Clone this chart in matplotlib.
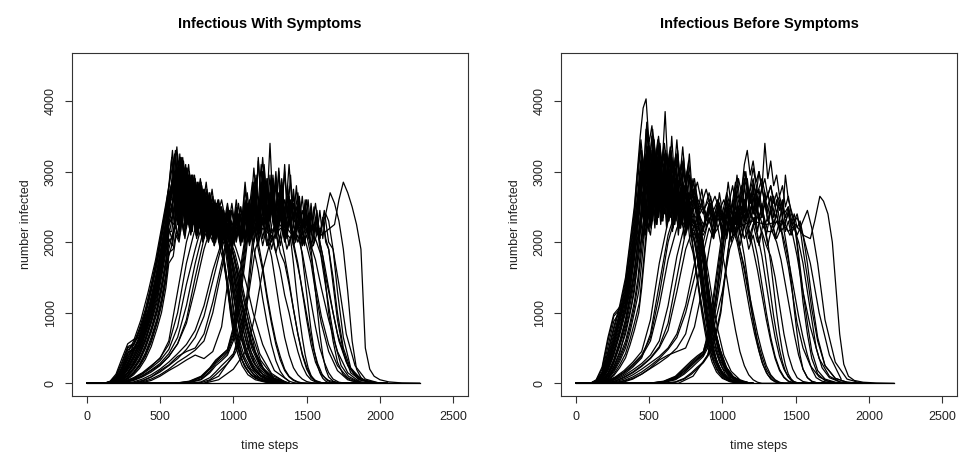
import matplotlib
matplotlib.use('Agg')
import matplotlib.pyplot as plt

# ---------------------------------------------------------------
# Infectious With Symptoms (left panel)
# runs are grouped by when the outbreak took off; each group shares
# a list of time steps, each run is the count read at those steps
# ---------------------------------------------------------------

sym_rise_t = [0, 120, 160, 200, 240, 280, 320, 360, 400, 440, 480, 510, 540, 560]

sym_t_early_a = sym_rise_t + [580, 600, 620, 640, 660, 680, 700, 720, 740, 760,
                              780, 800, 820, 840, 860, 880, 900, 920, 940, 960,
                              980, 1000, 1030, 1060, 1100, 1150, 1220, 1300]
sym_early_a = [
    [0, 0, 25, 110, 300, 520, 560, 780, 1050, 1400, 1800, 2150, 2500, 2800,
     3200, 2600, 3250, 2550, 3150, 2650, 3000, 2500, 2900, 2450,
     2850, 2400, 2750, 2350, 2650, 2300, 2550, 2200, 2050, 1800,
     1450, 1000, 650, 400, 220, 100, 30, 0],
    [0, 0, 10, 40, 120, 270, 420, 560, 800, 1080, 1450, 1800, 2150, 2450,
     2300, 3000, 2250, 3100, 2400, 2950, 2300, 2900, 2250, 2800,
     2200, 2700, 2150, 2650, 2100, 2550, 2050, 2450, 2000, 1900,
     1700, 1400, 1050, 700, 400, 180, 60, 5],
    [0, 0, 0, 15, 60, 140, 250, 390, 590, 850, 1150, 1500, 1850, 2150,
     2150, 2500, 2900, 2300, 2750, 2200, 2650, 2150, 2600, 2100,
     2550, 2050, 2500, 2050, 2400, 2000, 2300, 1950, 1700, 1450,
     1150, 850, 550, 330, 170, 70, 20, 0],
    [0, 0, 0, 5, 25, 70, 140, 240, 380, 580, 850, 1100, 1450, 1800,
     1950, 2250, 2100, 2400, 2150, 2450, 2200, 2500, 2150, 2450,
     2100, 2400, 2050, 2350, 2050, 2300, 2000, 2250, 2100, 2000,
     1800, 1600, 1300, 950, 580, 260, 80, 10],
    [0, 0, 20, 95, 270, 500, 545, 740, 1000, 1350, 1750, 2100, 2450, 2750,
     2450, 2950, 2500, 3200, 2450, 3050, 2400, 2900, 2350, 2800,
     2300, 2700, 2250, 2600, 2200, 2500, 2150, 2000, 1700, 1350,
     1000, 700, 420, 250, 120, 50, 15, 0],
    [0, 0, 0, 18, 65, 150, 265, 410, 615, 875, 1200, 1550, 1900, 2200,
     2050, 2200, 2550, 2150, 2650, 2200, 2700, 2200, 2600, 2150,
     2550, 2100, 2450, 2100, 2400, 2050, 2350, 2250, 2150, 2100,
     2000, 1850, 1600, 1300, 900, 450, 150, 20],
]

sym_t_early_b = sym_rise_t + [585, 605, 625, 645, 665, 685, 705, 725, 745, 765,
                              785, 805, 825, 845, 865, 885, 905, 925, 945, 965,
                              985, 1010, 1040, 1075, 1120, 1180, 1260, 1350]
sym_early_b = [
    [0, 0, 20, 80, 230, 470, 540, 700, 960, 1300, 1700, 2050, 2400, 2700,
     2750, 3300, 2700, 3200, 2600, 3050, 2550, 2950, 2500, 2850,
     2450, 2750, 2400, 2650, 2300, 2550, 2250, 2450, 2200, 2050,
     1800, 1450, 1050, 700, 380, 160, 50, 5],
    [0, 0, 5, 30, 100, 220, 360, 520, 740, 1000, 1380, 1700, 2050, 2350,
     2500, 2200, 2800, 2300, 2900, 2350, 2800, 2300, 2700, 2250,
     2650, 2200, 2600, 2150, 2500, 2100, 2400, 2050, 1900, 1600,
     1300, 950, 620, 380, 200, 80, 20, 0],
    [0, 0, 0, 10, 50, 120, 220, 350, 540, 780, 1080, 1400, 1750, 2100,
     2350, 2650, 2250, 2750, 2300, 2700, 2250, 2650, 2200, 2550,
     2150, 2500, 2100, 2450, 2050, 2350, 2000, 2250, 2000, 1950,
     1750, 1500, 1150, 800, 450, 200, 60, 5],
    [0, 0, 30, 130, 350, 560, 620, 650, 980, 1350, 1750, 2100, 2450, 2750,
     3300, 2700, 3150, 2650, 3050, 2600, 2950, 2550, 2850, 2500,
     2800, 2400, 2700, 2350, 2600, 2250, 2450, 2150, 2300, 2150,
     1950, 1750, 1400, 1000, 600, 270, 80, 10],
    [0, 0, 12, 55, 165, 370, 490, 620, 880, 1170, 1570, 1920, 2280, 2580,
     2900, 2350, 3100, 2400, 3000, 2400, 2900, 2350, 2800, 2300,
     2700, 2250, 2600, 2200, 2500, 2100, 2300, 1900, 1600, 1300,
     1000, 700, 430, 250, 120, 50, 15, 0],
    [0, 0, 0, 12, 45, 110, 205, 330, 515, 750, 1040, 1350, 1700, 2050,
     1950, 2300, 2050, 2450, 2100, 2550, 2150, 2550, 2100, 2500,
     2050, 2450, 2050, 2400, 2000, 2350, 2100, 2300, 2150, 2100,
     2000, 1850, 1600, 1250, 850, 420, 140, 20],
]

sym_t_early_c = sym_rise_t + [590, 610, 630, 650, 670, 690, 710, 730, 750, 770,
                              790, 810, 830, 850, 870, 890, 910, 930, 950, 970,
                              990, 1015, 1045, 1080, 1125, 1185, 1265, 1360]
sym_early_c = [
    [0, 0, 15, 60, 180, 400, 500, 640, 900, 1200, 1600, 1950, 2300, 2600,
     2600, 3100, 2550, 3000, 2500, 2950, 2450, 2850, 2400, 2800,
     2350, 2700, 2300, 2600, 2250, 2500, 2200, 2400, 2100, 1850,
     1550, 1200, 850, 530, 290, 120, 35, 0],
    [0, 0, 5, 25, 80, 190, 310, 470, 700, 950, 1300, 1650, 2000, 2300,
     3150, 2400, 3050, 2350, 2950, 2300, 2850, 2250, 2800, 2200,
     2700, 2150, 2650, 2100, 2550, 2100, 2450, 2050, 2000, 1750,
     1450, 1100, 750, 450, 230, 100, 30, 0],
    [0, 0, 0, 10, 40, 100, 190, 310, 490, 720, 1000, 1300, 1650, 2000,
     2100, 2350, 2200, 2550, 2250, 2600, 2300, 2650, 2250, 2600,
     2200, 2550, 2150, 2500, 2100, 2400, 2050, 2300, 2150, 2050,
     1900, 1700, 1450, 1100, 700, 330, 110, 15],
    [0, 0, 0, 0, 20, 60, 120, 210, 340, 520, 780, 1000, 1350, 1700,
     1800, 2100, 2000, 2300, 2050, 2400, 2100, 2350, 2050, 2300,
     2000, 2250, 2000, 2200, 1950, 2150, 1900, 1750, 1500, 1200,
     900, 650, 400, 230, 110, 40, 10, 0],
    [0, 0, 8, 45, 135, 300, 450, 580, 820, 1110, 1500, 1850, 2200, 2500,
     2400, 2750, 2300, 2950, 2350, 2900, 2300, 2850, 2250, 2750,
     2200, 2650, 2150, 2550, 2100, 2450, 2050, 2300, 2000, 1950,
     1800, 1550, 1200, 850, 500, 220, 70, 5],
    [0, 0, 0, 3, 28, 75, 150, 255, 405, 615, 885, 1150, 1500, 1850,
     1900, 2150, 2050, 2350, 2100, 2450, 2150, 2450, 2100, 2400,
     2050, 2350, 2000, 2300, 1950, 2200, 1900, 2100, 1950, 1900,
     1750, 1550, 1250, 900, 550, 250, 80, 10],
]

sym_t_early_d = sym_rise_t + [595, 615, 635, 655, 675, 695, 715, 735, 755, 775,
                              795, 815, 835, 855, 875, 895, 915, 935, 955, 975,
                              995, 1020, 1050, 1090, 1135, 1200, 1280, 1380]
sym_early_d = [
    [0, 0, 10, 50, 150, 330, 480, 600, 850, 1150, 1550, 1900, 2250, 2550,
     3000, 2450, 3250, 2500, 3100, 2450, 2950, 2400, 2850, 2350,
     2750, 2300, 2700, 2250, 2600, 2200, 2500, 2150, 2000, 1700,
     1350, 1000, 650, 380, 190, 80, 20, 0],
    [0, 0, 0, 20, 70, 160, 280, 430, 640, 900, 1250, 1600, 1950, 2250,
     2400, 2850, 2350, 2950, 2400, 2850, 2350, 2800, 2300, 2700,
     2250, 2650, 2200, 2550, 2150, 2450, 2100, 2350, 2200, 2050,
     1850, 1600, 1250, 880, 500, 220, 70, 5],
    [0, 0, 0, 5, 30, 80, 160, 270, 430, 650, 920, 1200, 1550, 1900,
     2200, 2600, 2150, 2700, 2200, 2650, 2150, 2600, 2100, 2550,
     2100, 2450, 2050, 2400, 2000, 2300, 1950, 2100, 1850, 1600,
     1300, 1000, 700, 420, 220, 90, 25, 0],
    [0, 0, 10, 60, 200, 430, 500, 530, 760, 1050, 1450, 1800, 2150, 2500,
     2850, 3350, 2800, 3200, 2700, 3100, 2650, 2950, 2600, 2900,
     2550, 2850, 2450, 2750, 2400, 2600, 2300, 2450, 2200, 1950,
     1600, 1250, 900, 560, 300, 130, 40, 0],
    [0, 0, 5, 35, 110, 240, 390, 540, 770, 1040, 1420, 1750, 2100, 2400,
     2600, 3050, 2500, 3100, 2450, 2950, 2400, 2850, 2350, 2750,
     2300, 2650, 2250, 2550, 2200, 2400, 2050, 1800, 1500, 1250,
     950, 700, 450, 270, 130, 50, 15, 0],
    [0, 0, 3, 28, 90, 200, 340, 500, 720, 980, 1340, 1680, 2030, 2330,
     2250, 2600, 2300, 2800, 2350, 2800, 2300, 2750, 2250, 2650,
     2200, 2600, 2150, 2500, 2100, 2400, 2050, 2300, 2200, 2150,
     2050, 1900, 1700, 1400, 1000, 550, 180, 30],
]

sym_t_long_a = [0, 120, 170, 220, 270, 320, 370, 420, 470, 510,
                545, 570, 600, 630, 660, 690, 720, 750, 780, 810,
                840, 870, 900, 930, 960, 990, 1020, 1050, 1080, 1110,
                1140, 1170, 1200, 1230, 1260, 1290, 1320, 1350, 1380, 1410,
                1440, 1470, 1500, 1530, 1560, 1590, 1620, 1650, 1680, 1720,
                1770, 1830, 1900, 2000]
sym_long_a = [
    [0, 0, 20, 90, 300, 550, 800, 1150, 1600, 2050,
     2450, 2750, 3000, 2500, 2900, 2400, 2800, 2350, 2700, 2300,
     2650, 2200, 2550, 2100, 2500, 2050, 2600, 2100, 2750, 2150,
     2850, 2200, 3000, 2250, 2800, 2150, 2700, 2100, 2650, 2050,
     2550, 2000, 2450, 1950, 2350, 2000, 1700, 1350, 1000, 600,
     300, 120, 40, 0],
    [0, 0, 10, 50, 180, 380, 620, 950, 1400, 1850,
     2250, 2550, 2850, 2300, 2750, 2250, 2650, 2200, 2550, 2150,
     2450, 2100, 2400, 2050, 2350, 2000, 2300, 1950, 2400, 2000,
     2500, 2050, 2350, 1950, 2100, 1850, 1600, 1250, 1000, 700,
     450, 250, 120, 50, 20, 5, 0, 0, 0, 0,
     0, 0, 0, 0],
    [0, 0, 30, 130, 380, 600, 900, 1300, 1750, 2200,
     2600, 2900, 3250, 2700, 3100, 2600, 2950, 2500, 2800, 2400,
     2700, 2250, 2600, 2200, 2550, 2150, 2500, 2100, 2850, 2200,
     3050, 2300, 3200, 2350, 2900, 2250, 2800, 2200, 3100, 2250,
     2700, 2150, 2600, 2100, 2550, 2050, 2450, 2000, 1900, 1400,
     700, 250, 60, 0],
    [0, 0, 15, 70, 240, 470, 720, 1050, 1500, 1950,
     2350, 2650, 2900, 2400, 2800, 2350, 2700, 2300, 2600, 2250,
     2550, 2150, 2450, 2100, 2400, 2050, 2350, 2000, 2450, 2050,
     2500, 2100, 2650, 2150, 2450, 2050, 2350, 2000, 2300, 1950,
     2100, 1850, 1500, 1150, 800, 500, 300, 150, 60, 15,
     0, 0, 0, 0],
]

sym_t_long_b = [0, 130, 180, 230, 280, 330, 380, 430, 480, 520,
                555, 580, 615, 645, 675, 705, 735, 765, 795, 825,
                855, 885, 915, 945, 975, 1005, 1035, 1065, 1095, 1125,
                1155, 1185, 1215, 1245, 1275, 1305, 1335, 1365, 1395, 1425,
                1455, 1485, 1515, 1545, 1575, 1605, 1635, 1665, 1695, 1735,
                1785, 1845, 1915, 2015]
sym_long_b = [
    [0, 0, 15, 80, 260, 500, 760, 1100, 1550, 2000,
     2400, 2700, 2950, 2450, 2850, 2400, 2750, 2350, 2650, 2300,
     2550, 2100, 2500, 2050, 2450, 2000, 2550, 2050, 2700, 2100,
     2950, 2200, 2800, 2150, 2700, 2100, 2600, 2050, 2550, 2000,
     2500, 1950, 2400, 1950, 2150, 1700, 1300, 900, 550, 250,
     100, 30, 5, 0],
    [0, 0, 5, 40, 150, 330, 560, 880, 1300, 1750,
     2150, 2500, 2800, 2300, 2700, 2250, 2600, 2200, 2500, 2150,
     2450, 2050, 2400, 2000, 2350, 1950, 2400, 2000, 2550, 2050,
     2650, 2100, 2500, 2050, 2400, 1950, 2250, 1900, 2100, 1800,
     1500, 1150, 800, 500, 280, 130, 50, 15, 0, 0,
     0, 0, 0, 0],
]

sym_t_mid = [0, 200, 260, 320, 380, 440, 500, 560, 620, 680,
             740, 800, 860, 920, 960, 990, 1020, 1050, 1080, 1110,
             1140, 1170, 1200, 1230, 1260, 1290, 1320, 1350, 1380, 1410,
             1440, 1470, 1500, 1530, 1560, 1600, 1650, 1710, 1780, 1860]
sym_mid = [
    [0, 0, 30, 80, 150, 250, 350, 600, 1300, 2000,
     2450, 2100, 2550, 2050, 2400, 2000, 2450, 2050, 2500, 2100,
     2600, 2150, 2450, 2050, 1800, 1400, 1000, 650, 400, 220,
     120, 60, 25, 10, 0, 0, 0, 0, 0, 0],
    [0, 0, 10, 40, 90, 160, 250, 380, 560, 900,
     1500, 2050, 2400, 2000, 2350, 1950, 2400, 2050, 2550, 2100,
     2650, 2150, 2700, 2200, 2550, 2150, 2450, 2050, 2300, 2000,
     1700, 1300, 900, 550, 300, 120, 40, 10, 0, 0],
    [0, 0, 0, 20, 60, 120, 200, 300, 420, 550,
     750, 1100, 1600, 2000, 2350, 2000, 2450, 2100, 2600, 2150,
     2800, 2200, 2900, 2250, 2700, 2150, 2600, 2100, 2500, 2050,
     2400, 2000, 2300, 1950, 1750, 1350, 900, 450, 150, 20],
    [0, 0, 0, 0, 30, 90, 180, 260, 380, 450,
     500, 700, 1150, 1700, 2100, 2450, 2050, 2500, 2100, 2550,
     2200, 2000, 1650, 1250, 900, 600, 380, 200, 100, 50,
     20, 5, 0, 0, 0, 0, 0, 0, 0, 0],
    [0, 0, 20, 60, 130, 220, 320, 480, 800, 1400,
     1900, 2350, 2000, 2500, 2100, 2450, 2050, 2400, 2000, 2350,
     2000, 2300, 1950, 2250, 1900, 2150, 1850, 1700, 1400, 1050,
     700, 420, 230, 100, 40, 10, 0, 0, 0, 0],
    [0, 0, 0, 0, 10, 40, 100, 180, 250, 330,
     400, 350, 450, 800, 1400, 1900, 2300, 2000, 2450, 2100,
     2550, 2150, 2650, 2200, 2500, 2100, 2400, 2050, 2350, 2000,
     2300, 1950, 2200, 1900, 2050, 1800, 1300, 700, 250, 30],
    [0, 0, 15, 50, 110, 190, 280, 420, 650, 1100,
     1700, 2200, 2500, 2100, 2450, 2050, 2350, 2000, 2300, 1950,
     2250, 1900, 1600, 1200, 850, 550, 330, 180, 90, 40,
     15, 5, 0, 0, 0, 0, 0, 0, 0, 0],
    [0, 0, 0, 10, 40, 90, 160, 250, 350, 480,
     650, 950, 1450, 1950, 2250, 1950, 2350, 2000, 2500, 2100,
     2650, 2150, 2750, 2200, 2600, 2100, 2500, 2050, 2400, 2000,
     2250, 1950, 2100, 1800, 1400, 950, 550, 250, 80, 10],
    [0, 0, 20, 50, 100, 180, 260, 380, 560, 850,
     1350, 1900, 2300, 2000, 2400, 2050, 2450, 2050, 2400, 2000,
     2350, 1950, 2300, 1950, 2200, 1850, 2100, 1800, 1450, 1050,
     700, 400, 200, 80, 30, 10, 0, 0, 0, 0],
    [0, 0, 0, 0, 20, 60, 120, 200, 300, 380,
     470, 600, 1000, 1600, 2050, 2300, 2000, 2350, 2050, 2200,
     1900, 1600, 1200, 850, 550, 320, 170, 80, 30, 10,
     0, 0, 0, 0, 0, 0, 0, 0, 0, 0],
    [0, 0, 25, 70, 140, 240, 360, 550, 1000, 1700,
     2200, 2550, 2150, 2600, 2150, 2550, 2100, 2500, 2050, 2450,
     2100, 2500, 2050, 2400, 2000, 2350, 1950, 2300, 1950, 2250,
     2000, 2150, 1950, 1700, 1300, 850, 450, 180, 50, 5],
]

sym_t_late = [0, 600, 700, 780, 840, 880, 920, 960, 1000, 1030,
              1060, 1090, 1110, 1130, 1150, 1170, 1190, 1210, 1230, 1250,
              1270, 1290, 1310, 1330, 1350, 1370, 1390, 1410, 1430, 1450,
              1470, 1490, 1510, 1530, 1550, 1570, 1590, 1610, 1630, 1650,
              1680, 1710, 1750, 1800, 1870, 1950, 2050]
sym_late = [
    [0, 0, 20, 80, 200, 300, 380, 450, 700, 1100,
     1600, 2100, 2500, 2850, 2400, 3150, 2600, 3100, 2550, 3400,
     2500, 3000, 2450, 2900, 2400, 2800, 2350, 2750, 2300, 2650,
     2200, 2600, 2150, 2550, 2100, 2450, 2050, 2350, 2000, 1900,
     1500, 1000, 500, 200, 50, 10, 0],
    [0, 0, 10, 50, 150, 250, 320, 400, 600, 950,
     1400, 1900, 2300, 2650, 2300, 3200, 2500, 3050, 2400, 2950,
     2300, 2900, 2300, 2750, 2250, 2650, 2200, 2550, 2150, 2500,
     2100, 2450, 2050, 2400, 2000, 2350, 2000, 1800, 1400, 1000,
     600, 300, 120, 40, 10, 0, 0],
    [0, 0, 0, 20, 80, 160, 250, 330, 420, 560,
     800, 1200, 1600, 2000, 2400, 2150, 2650, 2250, 2750, 2300,
     2900, 2350, 3000, 2400, 3100, 2350, 2950, 2300, 2800, 2250,
     2650, 2200, 2600, 2150, 2500, 2100, 2450, 2050, 2400, 2300,
     1900, 1300, 650, 220, 60, 15, 0],
    [0, 0, 30, 100, 220, 330, 400, 480, 800, 1300,
     1800, 2200, 2600, 2200, 2750, 2300, 2850, 2350, 2900, 2350,
     2950, 2400, 3050, 2450, 3000, 2400, 2600, 2300, 2300, 2100,
     1800, 1450, 1100, 750, 480, 280, 150, 70, 30, 10,
     0, 0, 0, 0, 0, 0, 0],
    [0, 0, 15, 60, 170, 280, 350, 430, 650, 1000,
     1500, 2000, 2400, 2700, 2900, 2550, 3100, 2600, 2900, 2500,
     2800, 2450, 2700, 2400, 2600, 2350, 2550, 2300, 2500, 2250,
     2450, 2200, 2350, 1900, 1500, 1100, 700, 400, 200, 90,
     30, 10, 0, 0, 0, 0, 0],
    [0, 0, 0, 10, 50, 120, 200, 280, 380, 500,
     700, 1050, 1450, 1850, 2150, 2450, 2250, 2600, 2300, 2700,
     2400, 2800, 2450, 2850, 2400, 2750, 2350, 2650, 2300, 2600,
     2250, 2550, 2200, 2450, 2150, 2400, 2100, 2350, 2050, 1900,
     1400, 900, 450, 150, 40, 10, 0],
    [0, 0, 25, 90, 210, 320, 400, 470, 750, 1200,
     1700, 2150, 2550, 2300, 2700, 2350, 2800, 2400, 2750, 2350,
     2650, 2300, 2550, 2250, 2400, 2100, 2050, 1700, 1300, 950,
     650, 400, 220, 110, 50, 20, 5, 0, 0, 0,
     0, 0, 0, 0, 0, 0, 0],
]

sym_t_last = [0, 800, 900, 1000, 1100, 1150, 1200, 1250, 1300, 1350,
              1400, 1450, 1500, 1550, 1600, 1630, 1660, 1690, 1720, 1750,
              1780, 1810, 1840, 1870, 1900, 1930, 1960, 2000, 2060, 2150, 2270]
sym_last = [
    [0, 0, 50, 200, 500, 1000, 1600, 2000, 2150, 2250,
     2100, 2300, 2150, 2250, 2100, 2150, 2200, 2250, 2600, 2850,
     2700, 2500, 2250, 1900, 500, 200, 100, 50, 20, 5, 0],
    [0, 0, 100, 400, 1200, 1900, 2200, 2100, 2300, 2150,
     2350, 2200, 2300, 2150, 2200, 2400, 2700, 2550, 2300, 1900,
     1300, 600, 200, 80, 30, 10, 0, 0, 0, 0, 0],
]

sym_t_none = [0, 2270]
sym_none = [[0, 0]]

# ---------------------------------------------------------------
# Infectious Before Symptoms (right panel)
# ---------------------------------------------------------------

pre_rise_t = [0, 100, 140, 180, 220, 260, 300, 340, 370, 400]

pre_t_early_a = pre_rise_t + [420, 440, 460, 480, 500, 520, 540, 560, 580, 600,
                              620, 640, 660, 680, 700, 720, 740, 760, 780, 800,
                              820, 840, 860, 880, 900, 930, 960, 1000, 1050, 1110, 1180]
pre_early_a = [
    [0, 0, 30, 150, 450, 800, 1100, 1500, 2000, 2500,
     3000, 3500, 3900, 4030, 3400, 3650, 3100, 3450, 3000, 3350,
     2900, 3250, 2850, 3200, 2800, 3100, 2700, 3000, 2600, 2750,
     2500, 2200, 1850, 1500, 1150, 750, 450, 220, 90, 25, 0],
    [0, 0, 10, 60, 220, 470, 750, 1080, 1450, 1900,
     2400, 2900, 2500, 3100, 2600, 3200, 2650, 3100, 2550, 3050,
     2500, 2950, 2450, 2900, 2400, 2800, 2350, 2700, 2300, 2500,
     2250, 1950, 1650, 1300, 950, 600, 330, 150, 55, 15, 0],
    [0, 0, 0, 25, 100, 240, 450, 700, 980, 1300,
     1700, 2200, 2700, 2400, 2950, 2500, 3000, 2550, 2950, 2500,
     2900, 2450, 2850, 2400, 2750, 2350, 2650, 2300, 2550, 2400,
     2350, 2200, 2000, 1750, 1450, 1050, 650, 330, 130, 35, 0],
    [0, 0, 40, 200, 600, 950, 1050, 1100, 1500, 2000,
     2500, 3000, 2600, 3250, 2700, 3300, 2750, 3200, 2700, 3100,
     2650, 3000, 2600, 2900, 2500, 2800, 2450, 2650, 2200, 1900,
     1600, 1300, 1000, 750, 520, 300, 160, 70, 25, 5, 0],
    [0, 0, 28, 135, 420, 760, 1060, 1450, 1930, 2430,
     2950, 3350, 2850, 3600, 2950, 3500, 2900, 3350, 2850, 3250,
     2800, 3150, 2750, 3050, 2700, 2950, 2650, 2800, 2500, 2400,
     2200, 1900, 1550, 1200, 880, 520, 280, 120, 40, 10, 0],
    [0, 0, 3, 35, 135, 315, 560, 850, 1180, 1530,
     1900, 2350, 2050, 2600, 2150, 2750, 2200, 2800, 2250, 2800,
     2200, 2750, 2150, 2650, 2100, 2550, 2050, 2400, 2000, 1850,
     1600, 1350, 1100, 850, 620, 380, 200, 85, 25, 5, 0],
]

pre_t_early_b = pre_rise_t + [425, 445, 465, 485, 505, 525, 545, 565, 585, 605,
                              625, 645, 665, 685, 705, 725, 745, 765, 785, 805,
                              825, 845, 865, 885, 905, 935, 970, 1010, 1060, 1120, 1190]
pre_early_b = [
    [0, 0, 25, 120, 380, 700, 1000, 1400, 1850, 2350,
     2900, 3450, 3000, 3700, 3200, 3600, 3150, 3500, 3100, 3400,
     3050, 3350, 3000, 3250, 2900, 3150, 2850, 3050, 2700, 2850,
     2550, 2250, 1900, 1550, 1200, 800, 480, 230, 90, 25, 0],
    [0, 0, 10, 50, 180, 400, 680, 1000, 1350, 1750,
     2200, 2650, 2300, 2800, 2350, 2900, 2400, 3000, 2450, 2950,
     2400, 2850, 2350, 2750, 2300, 2650, 2250, 2550, 2200, 2100,
     1900, 1650, 1350, 1050, 780, 480, 270, 120, 45, 10, 0],
    [0, 0, 0, 20, 80, 200, 380, 600, 850, 1150,
     1500, 1950, 2400, 2200, 2650, 2300, 2750, 2350, 2800, 2400,
     2750, 2350, 2700, 2300, 2650, 2250, 2550, 2200, 2450, 2300,
     2200, 2050, 1850, 1600, 1300, 900, 550, 270, 100, 25, 0],
    [0, 0, 30, 160, 520, 880, 1000, 1020, 1300, 1800,
     2300, 2750, 2400, 2950, 2450, 3050, 2500, 3000, 2450, 2900,
     2400, 2800, 2350, 2700, 2300, 2600, 2250, 2500, 2150, 2050,
     1850, 1600, 1300, 1000, 720, 430, 230, 100, 35, 10, 0],
    [0, 0, 22, 110, 350, 660, 980, 1350, 1780, 2280,
     2700, 3150, 2650, 3300, 2700, 3250, 2650, 3150, 2600, 3100,
     2550, 3000, 2500, 2900, 2450, 2800, 2400, 2650, 2300, 2200,
     2000, 1750, 1450, 1150, 850, 500, 260, 110, 35, 10, 0],
    [0, 0, 0, 18, 70, 180, 345, 550, 790, 1080,
     1400, 1800, 2200, 2550, 2250, 2650, 2300, 2700, 2300, 2700,
     2250, 2650, 2200, 2600, 2200, 2550, 2250, 2500, 2300, 2300,
     2250, 2150, 2000, 1800, 1550, 1150, 750, 400, 170, 50, 0],
]

pre_t_early_c = pre_rise_t + [430, 450, 470, 490, 510, 530, 550, 570, 590, 610,
                              630, 650, 670, 690, 710, 730, 750, 770, 790, 810,
                              830, 850, 870, 890, 910, 940, 980, 1020, 1070, 1130, 1200]
pre_early_c = [
    [0, 0, 20, 100, 320, 620, 950, 1300, 1700, 2200,
     2800, 3300, 2900, 3550, 3000, 3500, 3050, 3400, 3100, 3850,
     3000, 3300, 2950, 3450, 2900, 3350, 2850, 3150, 2750, 2900,
     2600, 2300, 1950, 1600, 1250, 850, 500, 250, 100, 30, 0],
    [0, 0, 5, 40, 150, 340, 600, 900, 1250, 1600,
     2100, 2550, 2200, 2700, 2300, 2850, 2350, 2950, 2400, 3000,
     2400, 2950, 2350, 2850, 2300, 2750, 2250, 2600, 2150, 2000,
     1750, 1450, 1150, 850, 600, 350, 180, 80, 25, 5, 0],
    [0, 0, 0, 15, 60, 160, 310, 500, 720, 1000,
     1300, 1700, 2150, 2500, 2250, 2700, 2350, 2800, 2400, 2850,
     2400, 2800, 2350, 2750, 2300, 2700, 2250, 2600, 2300, 2250,
     2150, 2000, 1800, 1550, 1250, 850, 500, 240, 90, 25, 0],
    [0, 0, 0, 5, 40, 110, 220, 360, 540, 750,
     1000, 1350, 1800, 2250, 2100, 2500, 2250, 2650, 2300, 2700,
     2300, 2650, 2250, 2600, 2200, 2550, 2150, 2450, 2200, 2150,
     2050, 1950, 1750, 1500, 1200, 800, 450, 200, 70, 20, 0],
    [0, 0, 17, 90, 295, 590, 900, 1250, 1650, 2130,
     2550, 3000, 2600, 3200, 2650, 3250, 2650, 3200, 2600, 3100,
     2550, 3050, 2500, 2950, 2450, 2850, 2400, 2700, 2350, 2250,
     2050, 1800, 1500, 1200, 900, 550, 300, 130, 45, 10, 0],
    [0, 0, 50, 230, 650, 980, 1080, 1150, 1600, 2100,
     2600, 3100, 2700, 3350, 2800, 3400, 2800, 3300, 2750, 3200,
     2700, 3100, 2600, 2950, 2500, 2750, 2350, 2400, 2100, 1800,
     1500, 1200, 950, 720, 500, 300, 150, 60, 20, 5, 0],
]

pre_t_early_d = pre_rise_t + [435, 455, 475, 495, 515, 535, 555, 575, 595, 615,
                              635, 655, 675, 695, 715, 735, 755, 775, 795, 815,
                              835, 855, 875, 895, 915, 945, 985, 1030, 1080, 1140, 1210]
pre_early_d = [
    [0, 0, 15, 80, 270, 550, 850, 1200, 1600, 2050,
     2700, 3200, 2800, 3350, 2850, 3450, 2900, 3400, 2850, 3300,
     2800, 3500, 2850, 3300, 2800, 3200, 2750, 3250, 2700, 2800,
     2500, 2200, 1850, 1500, 1150, 750, 430, 200, 80, 20, 0],
    [0, 0, 5, 30, 120, 290, 520, 800, 1100, 1450,
     2000, 2450, 2100, 2600, 2200, 2750, 2250, 2850, 2300, 2900,
     2300, 2850, 2250, 2750, 2200, 2650, 2150, 2550, 2100, 2000,
     1800, 1550, 1250, 950, 680, 400, 200, 90, 30, 5, 0],
    [0, 0, 0, 10, 50, 130, 260, 420, 620, 850,
     1150, 1550, 2000, 2400, 2200, 2600, 2300, 2700, 2350, 2750,
     2350, 2700, 2300, 2650, 2250, 2550, 2200, 2450, 2250, 2200,
     2100, 1950, 1750, 1500, 1200, 800, 480, 220, 80, 20, 0],
    [0, 0, 20, 90, 300, 580, 900, 1250, 1650, 2100,
     2650, 3150, 2750, 3300, 2800, 3400, 2850, 3350, 2800, 3250,
     2750, 3200, 2700, 3250, 2650, 3100, 2600, 2950, 2500, 2600,
     2300, 2000, 1650, 1300, 950, 600, 330, 150, 55, 15, 0],
    [0, 0, 12, 70, 245, 510, 800, 1140, 1520, 1980,
     2450, 2900, 2500, 3050, 2550, 3150, 2600, 3100, 2550, 3050,
     2500, 2950, 2450, 2850, 2400, 2750, 2350, 2600, 2300, 2250,
     2100, 1900, 1650, 1350, 1050, 700, 400, 180, 60, 15, 0],
    [0, 0, 8, 55, 200, 435, 715, 1040, 1400, 1820,
     2200, 2650, 2250, 2800, 2300, 2900, 2350, 2950, 2350, 2900,
     2300, 2800, 2250, 2700, 2200, 2600, 2150, 2450, 2150, 2100,
     2000, 1850, 1650, 1400, 1100, 750, 430, 200, 70, 15, 0],
]

pre_t_long = [0, 100, 150, 200, 250, 300, 340, 380, 410, 440,
              470, 500, 530, 560, 590, 620, 650, 680, 710, 740,
              770, 800, 830, 860, 890, 920, 950, 980, 1010, 1040,
              1070, 1100, 1130, 1160, 1190, 1220, 1250, 1280, 1310, 1340,
              1370, 1400, 1430, 1460, 1490, 1520, 1550, 1580, 1610, 1640,
              1680, 1730, 1800, 1900, 2000]
pre_long = [
    [0, 0, 30, 120, 350, 750, 1150, 1600, 2100, 2600,
     3100, 3400, 2800, 3350, 2750, 3250, 2700, 3150, 2650, 3000,
     2500, 2900, 2400, 2750, 2300, 2650, 2250, 2550, 2200, 2500,
     2100, 2450, 2050, 2400, 2000, 2350, 1950, 2300, 1950, 2250,
     2050, 2200, 1950, 1650, 1300, 950, 650, 400, 200, 80,
     30, 10, 0, 0, 0],
    [0, 0, 15, 70, 230, 550, 900, 1300, 1750, 2250,
     2700, 3050, 2550, 3000, 2500, 2950, 2450, 2850, 2400, 2800,
     2350, 2700, 2250, 2600, 2200, 2550, 2150, 2700, 2300, 2850,
     2350, 2950, 2400, 3000, 2450, 2650, 2300, 2400, 2150, 2150,
     2000, 1750, 1400, 1050, 700, 400, 200, 80, 30, 10,
     0, 0, 0, 0, 0],
    [0, 0, 40, 160, 450, 900, 1250, 1700, 2200, 2700,
     3250, 2950, 3300, 2950, 3200, 2850, 3100, 2800, 3050, 2750,
     2950, 2650, 2850, 2550, 2750, 2500, 2650, 2450, 2600, 2400,
     2550, 2350, 2500, 2300, 2450, 2250, 2400, 2200, 2350, 2150,
     2300, 2150, 2250, 2100, 2200, 2000, 1700, 1300, 900, 500,
     220, 80, 20, 5, 0],
    [0, 0, 10, 50, 180, 420, 750, 1100, 1500, 1950,
     2400, 2750, 2500, 2800, 2550, 2850, 2550, 2750, 2500, 2700,
     2450, 2600, 2400, 2550, 2350, 2500, 2300, 2450, 2250, 2400,
     2200, 2000, 1700, 1350, 1000, 700, 450, 250, 120, 50,
     15, 0, 0, 0, 0, 0, 0, 0, 0, 0,
     0, 0, 0, 0, 0],
]

pre_t_mid = [0, 150, 210, 270, 330, 390, 450, 510, 570, 630,
             690, 750, 810, 870, 910, 940, 970, 1000, 1030, 1060,
             1090, 1120, 1150, 1180, 1210, 1240, 1270, 1300, 1330, 1360,
             1390, 1420, 1450, 1480, 1510, 1550, 1600, 1660, 1730, 1810]
pre_mid = [
    [0, 0, 30, 90, 180, 300, 450, 900, 1700, 2300,
     2600, 2400, 2700, 2450, 2600, 2350, 2550, 2300, 2500, 2250,
     2400, 2150, 1800, 1350, 900, 550, 300, 150, 60, 20,
     5, 0, 0, 0, 0, 0, 0, 0, 0, 0],
    [0, 0, 10, 50, 110, 190, 280, 400, 600, 1100,
     1800, 2300, 2650, 2400, 2700, 2450, 2600, 2350, 2550, 2300,
     2500, 2250, 2450, 2200, 2350, 2100, 1800, 1400, 1000, 650,
     380, 200, 90, 30, 10, 0, 0, 0, 0, 0],
    [0, 0, 0, 20, 60, 120, 200, 290, 380, 500,
     700, 1100, 1700, 2200, 2500, 2300, 2600, 2400, 2700, 2450,
     2850, 2550, 3000, 2650, 2900, 2550, 2750, 2450, 2650, 2350,
     2550, 2250, 2400, 2100, 1800, 1300, 800, 350, 100, 10],
    [0, 0, 20, 70, 150, 250, 380, 600, 1100, 1750,
     2200, 2450, 2250, 2500, 2300, 2450, 2200, 2400, 2150, 2350,
     2100, 2300, 2050, 2200, 1900, 1600, 1250, 900, 600, 350,
     180, 80, 30, 10, 0, 0, 0, 0, 0, 0],
    [0, 0, 0, 0, 20, 60, 130, 220, 330, 400,
     450, 500, 800, 1400, 1900, 2250, 2450, 2300, 2600, 2400,
     2750, 2500, 2900, 2650, 3050, 2700, 2900, 2600, 2800, 2500,
     2650, 2400, 2500, 2250, 2350, 2100, 1700, 1000, 400, 60],
    [0, 0, 0, 30, 80, 150, 240, 350, 500, 750,
     1300, 1900, 2250, 2100, 2300, 2150, 2400, 2200, 2300, 2050,
     2150, 1900, 1600, 1250, 900, 600, 380, 200, 100, 40,
     10, 0, 0, 0, 0, 0, 0, 0, 0, 0],
    [0, 0, 20, 60, 130, 230, 360, 700, 1400, 2100,
     2500, 2100, 2650, 2150, 2550, 2100, 2500, 2050, 2450, 2000,
     2350, 1950, 2250, 1900, 2100, 1800, 1400, 1000, 650, 380,
     200, 90, 30, 10, 0, 0, 0, 0, 0, 0],
    [0, 0, 0, 10, 40, 90, 160, 250, 350, 480,
     650, 1000, 1500, 2000, 2350, 2050, 2500, 2100, 2650, 2150,
     2750, 2200, 2800, 2250, 2650, 2150, 2550, 2100, 2450, 2050,
     2300, 1950, 1650, 1250, 850, 500, 250, 90, 20, 0],
    [0, 0, 25, 80, 160, 270, 400, 650, 1250, 2000,
     2450, 2200, 2550, 2250, 2450, 2100, 2200, 1850, 1500, 1100,
     750, 450, 250, 120, 50, 15, 0, 0, 0, 0,
     0, 0, 0, 0, 0, 0, 0, 0, 0, 0],
    [0, 0, 5, 35, 90, 160, 250, 360, 520, 850,
     1500, 2150, 2500, 2200, 2550, 2250, 2500, 2200, 2450, 2150,
     2400, 2100, 2350, 2050, 2250, 2000, 2150, 1950, 1800, 1500,
     1100, 700, 400, 200, 80, 25, 5, 0, 0, 0],
    [0, 0, 0, 10, 30, 70, 130, 210, 290, 380,
     500, 700, 1250, 1850, 2200, 2050, 2350, 2150, 2300, 2050,
     2150, 1900, 1650, 1300, 1000, 700, 450, 250, 120, 50,
     15, 0, 0, 0, 0, 0, 0, 0, 0, 0],
]

pre_t_late = [0, 500, 600, 680, 740, 790, 830, 870, 900, 930,
              960, 990, 1010, 1030, 1050, 1070, 1090, 1110, 1130, 1150,
              1170, 1190, 1210, 1230, 1250, 1270, 1290, 1310, 1330, 1350,
              1370, 1390, 1410, 1430, 1450, 1470, 1490, 1510, 1530, 1550,
              1580, 1610, 1650, 1700, 1770, 1850, 1950]
pre_late = [
    [0, 0, 20, 80, 180, 280, 350, 420, 600, 900,
     1300, 1800, 2100, 2400, 2600, 2800, 2550, 2900, 2700, 3100,
     3300, 2950, 3150, 2850, 3000, 2750, 2900, 2650, 2800, 2550,
     2700, 2450, 2600, 2350, 2500, 2250, 2400, 2200, 2300, 2100,
     1700, 1200, 650, 250, 70, 15, 0],
    [0, 0, 10, 50, 130, 220, 300, 380, 500, 750,
     1100, 1500, 1850, 2150, 2400, 2250, 2550, 2350, 2650, 2450,
     2750, 2550, 2850, 2650, 3000, 2750, 3400, 2900, 3150, 2800,
     2950, 2650, 2800, 2500, 2650, 2400, 2300, 2000, 1650, 1300,
     850, 450, 180, 60, 15, 0, 0],
    [0, 0, 0, 20, 70, 150, 230, 300, 400, 550,
     750, 1050, 1400, 1750, 2050, 2300, 2150, 2400, 2250, 2550,
     2350, 2650, 2450, 2750, 2500, 2800, 2550, 2700, 2450, 2650,
     2400, 2600, 2350, 2950, 2600, 2450, 2300, 2400, 2200, 1900,
     1500, 1050, 600, 250, 70, 15, 0],
    [0, 0, 30, 100, 220, 320, 390, 450, 650, 1000,
     1450, 1900, 2200, 2050, 2300, 2150, 2400, 2200, 2500, 2300,
     2450, 2250, 2500, 2300, 2600, 2350, 2550, 2300, 2450, 2250,
     2400, 2200, 2350, 2150, 2300, 2100, 2250, 2100, 2200, 2300,
     2450, 2200, 1700, 900, 300, 60, 0],
    [0, 0, 20, 60, 150, 250, 330, 400, 550, 850,
     1250, 1700, 2050, 2300, 2150, 2400, 2250, 2500, 2300, 2600,
     2400, 2650, 2400, 2550, 2300, 2100, 1850, 1550, 1250, 950,
     700, 480, 300, 170, 90, 40, 15, 5, 0, 0,
     0, 0, 0, 0, 0, 0, 0],
    [0, 0, 15, 70, 170, 260, 340, 410, 560, 820,
     1200, 1650, 2000, 2300, 2550, 2350, 2700, 2450, 2800, 2500,
     2900, 2550, 2800, 2500, 2750, 2450, 2700, 2400, 2650, 2350,
     2600, 2300, 2550, 2250, 2450, 2200, 2300, 1950, 1550, 1150,
     700, 350, 130, 40, 10, 0, 0],
    [0, 0, 0, 15, 60, 130, 210, 290, 380, 500,
     700, 1000, 1350, 1700, 2050, 2350, 2150, 2500, 2250, 2600,
     2350, 2700, 2400, 2650, 2350, 2500, 2200, 2000, 1700, 1350,
     1000, 700, 450, 260, 130, 60, 20, 5, 0, 0,
     0, 0, 0, 0, 0, 0, 0],
    [0, 0, 25, 90, 200, 300, 370, 440, 700, 1100,
     1550, 2000, 2300, 2100, 2450, 2200, 2550, 2250, 2650, 2300,
     2700, 2350, 2750, 2400, 2650, 2350, 2600, 2300, 2500, 2250,
     2400, 2150, 2300, 2050, 1800, 1450, 1050, 700, 400, 200,
     80, 25, 5, 0, 0, 0, 0],
]

pre_t_last = [0, 700, 800, 900, 1000, 1050, 1100, 1200, 1300, 1400,
              1450, 1500, 1550, 1600, 1630, 1665, 1690, 1720, 1750, 1771,
              1800, 1828, 1860, 1900, 1960, 2050, 2170]
pre_last = [
    [0, 0, 100, 400, 1300, 1900, 2200, 2300, 2250, 2300,
     2150, 2250, 2100, 2050, 2300, 2650, 2580, 2400, 2000, 1450,
     700, 270, 100, 40, 15, 5, 0],
]

pre_t_none = [0, 2170]
pre_none = [[0, 0]]

sym_groups = [(sym_t_early_a, sym_early_a), (sym_t_early_b, sym_early_b),
              (sym_t_early_c, sym_early_c), (sym_t_early_d, sym_early_d),
              (sym_t_long_a, sym_long_a), (sym_t_long_b, sym_long_b),
              (sym_t_mid, sym_mid), (sym_t_late, sym_late),
              (sym_t_last, sym_last), (sym_t_none, sym_none)]
pre_groups = [(pre_t_early_a, pre_early_a), (pre_t_early_b, pre_early_b),
              (pre_t_early_c, pre_early_c), (pre_t_early_d, pre_early_d),
              (pre_t_long, pre_long), (pre_t_mid, pre_mid),
              (pre_t_late, pre_late), (pre_t_last, pre_last),
              (pre_t_none, pre_none)]

x_ticks = [0, 500, 1000, 1500, 2000, 2500]
y_ticks = [0, 1000, 2000, 3000, 4000]

AXIS_COL = '#333333'
plt.rcParams['font.family'] = ['Liberation Sans', 'DejaVu Sans']


def draw_panel(ax, groups, title):
    for t, runs in groups:
        for y in runs:
            ax.plot(t, y, color='black', linewidth=0.9)

    ax.set_xlim(-100, 2600)
    ax.set_ylim(-180, 4680)
    ax.set_xticks(x_ticks)
    ax.set_yticks(y_ticks)
    ax.set_xticklabels([str(v) for v in x_ticks])
    ax.set_yticklabels([str(v) for v in y_ticks], rotation=90, va='center')
    ax.tick_params(direction='out', length=5, width=0.8, colors=AXIS_COL,
                   labelcolor='#222222', labelsize=9, pad=6)
    for s in ax.spines.values():
        s.set_color(AXIS_COL)
        s.set_linewidth(0.8)

    # titles and labels placed as in the R device output
    bb = ax.get_position()
    cx = (bb.x0 + bb.x1) / 2
    fig.text(cx, 1 - 24 / 455, title, ha='center', va='center',
             fontsize=10.5, fontweight='bold', color='black')
    fig.text(cx, 1 - 446 / 455, 'time steps', ha='center', va='center',
             fontsize=9, color='#222222')
    fig.text(bb.x0 - 46 / 959, (bb.y0 + bb.y1) / 2, 'number infected',
             ha='center', va='center', rotation=90, fontsize=9, color='#222222')


fig = plt.figure(figsize=(9.59, 4.55), dpi=100)
ax1 = fig.add_axes([72 / 959, 1 - 396 / 455, 396 / 959, 343 / 455])
ax2 = fig.add_axes([561 / 959, 1 - 396 / 455, 396 / 959, 343 / 455])

draw_panel(ax1, sym_groups, 'Infectious With Symptoms')
draw_panel(ax2, pre_groups, 'Infectious Before Symptoms')

fig.savefig('out.png', dpi=100)
